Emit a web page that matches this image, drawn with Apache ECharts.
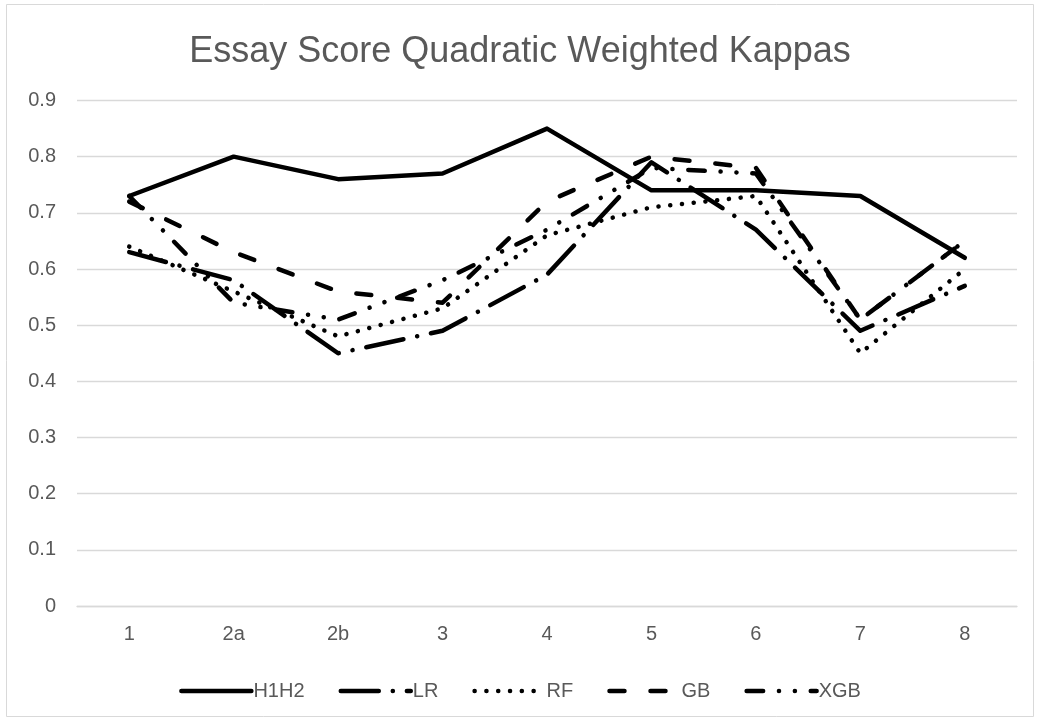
<!DOCTYPE html>
<html>
<head>
<meta charset="utf-8">
<script src="https://cdn.jsdelivr.net/npm/echarts@6/dist/echarts.min.js"></script>
<style>
html,body{margin:0;padding:0;background:#fff;}
#chart{width:1040px;height:721px;}
</style>
</head>
<body>
<div id="chart"></div>
<script>
const titleText = 'Essay Score Quadratic Weighted Kappas';
const categories = ['1', '2a', '2b', '3', '4', '5', '6', '7', '8'];
const seriesNames = ['H1H2', 'LR', 'RF', 'GB', 'XGB'];
const h1h2 = [0.73, 0.80, 0.76, 0.77, 0.85, 0.74, 0.74, 0.73, 0.62];
const lr   = [0.63, 0.58, 0.45, 0.49, 0.59, 0.79, 0.67, 0.49, 0.57];
const rf   = [0.64, 0.56, 0.48, 0.53, 0.66, 0.71, 0.73, 0.45, 0.60];
const gb   = [0.72, 0.63, 0.56, 0.54, 0.72, 0.80, 0.78, 0.51, 0.65];
const xgb  = [0.73, 0.54, 0.51, 0.58, 0.67, 0.78, 0.77, 0.51, 0.65];
const yTicks = { min: 0, max: 0.9, interval: 0.1 };

const values = [h1h2, lr, rf, gb, xgb];
const dashes = [
  'solid',
  [38, 14, 0.1, 14],
  [0.1, 11.7],
  [15, 26],
  [16.5, 15.8, 0.1, 15.8, 0.1, 15.8]
];
const font = '"Liberation Sans", Arial, sans-serif';
const lw = 4.5;

const chart = echarts.init(document.getElementById('chart'), null, { renderer: 'canvas' });
chart.setOption({
  backgroundColor: '#ffffff',
  animation: false,
  title: {
    text: titleText,
    left: 'center',
    top: 29,
    textStyle: { fontFamily: font, fontSize: 36, fontWeight: 'normal', color: '#595959' }
  },
  graphic: [{
    type: 'rect',
    shape: { x: 6.5, y: 4.5, width: 1027, height: 712 },
    style: { fill: 'none', stroke: '#d9d9d9', lineWidth: 1 },
    silent: true,
    z: -1
  }],
  legend: {
    data: seriesNames,
    top: 676,
    left: 'center',
    itemWidth: 70,
    itemHeight: 20,
    itemGap: 34,
    textStyle: { fontFamily: font, fontSize: 20, color: '#595959', padding: [0, 0, 0, -3] },
    lineStyle: { width: lw, cap: 'round' },
    itemStyle: { opacity: 0 }
  },
  grid: { left: 77, right: 23, top: 100.5, bottom: 115, containLabel: false },
  xAxis: {
    type: 'category',
    data: categories,
    boundaryGap: true,
    axisLine: { show: true, lineStyle: { color: '#d9d9d9', width: 1.3 } },
    axisTick: { show: false },
    axisLabel: { fontFamily: font, fontSize: 20, color: '#595959', margin: 18 },
    splitLine: { show: false }
  },
  yAxis: {
    type: 'value',
    min: yTicks.min,
    max: yTicks.max,
    interval: yTicks.interval,
    axisLine: { show: false },
    axisTick: { show: false },
    axisLabel: {
      fontFamily: font, fontSize: 20, color: '#595959', margin: 21,
      formatter: v => (Math.abs(v) < 1e-9 ? '0' : v.toFixed(1))
    },
    splitLine: { show: true, lineStyle: { color: '#d9d9d9', width: 1.3 } }
  },
  series: seriesNames.map((name, i) => ({
    name: name,
    type: 'line',
    data: values[i],
    symbol: 'none',
    smooth: false,
    lineStyle: { color: '#000000', width: lw, type: dashes[i], cap: 'round', join: 'round' },
    itemStyle: { color: '#000000' }
  }))
});
</script>
</body>
</html>
